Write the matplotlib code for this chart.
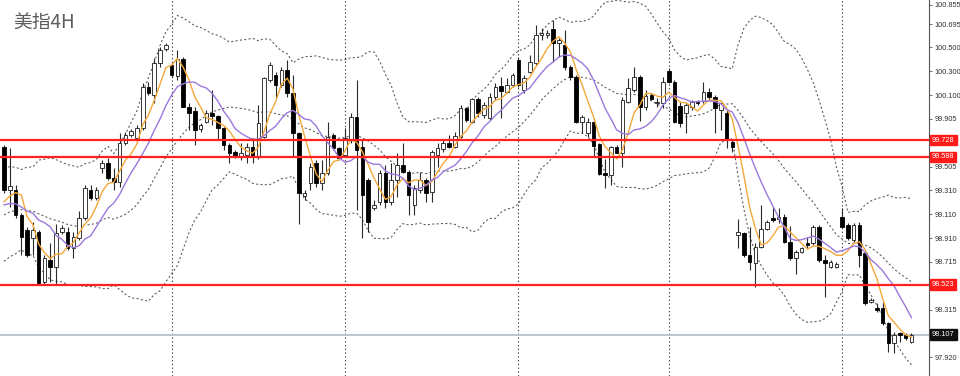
# 美指 4H candlestick chart, MT4 style
import numpy as np
import pandas as pd
import matplotlib
matplotlib.use("Agg")
import matplotlib.pyplot as plt
from matplotlib.transforms import blended_transform_factory

# closes left of the visible window (estimated from where the bands / MAs start)
earlier_close = [98.812, 98.895, 98.770, 98.937, 99.062, 98.978, 99.145, 99.103, 99.228, 99.270,
                 99.228, 99.128, 99.187, 99.103, 99.162, 99.103, 98.962, 99.020, 99.670]

opens = [
    99.670, 99.312, 99.312, 99.103, 98.978, 98.912, 98.962, 98.545, 98.728, 98.670,
    98.962, 98.962, 98.828, 98.912, 99.078, 99.312, 99.245, 99.495, 99.537, 99.412,
    99.378, 99.703, 99.770, 99.745, 99.828, 100.170, 100.103, 100.370, 100.487, 100.353,
    100.262, 100.403, 100.003, 99.970, 99.820, 99.878, 99.953, 99.928, 99.828, 99.687,
    99.628, 99.587, 99.603, 99.670, 99.587, 99.753, 100.228, 100.270, 100.187, 100.312,
    100.120, 99.787, 99.262, 99.370, 99.537, 99.370, 99.453, 99.770, 99.662, 99.603,
    99.728, 99.920, 99.670, 99.395, 99.162, 99.212, 99.453, 99.212, 99.395, 99.520,
    99.462, 99.187, 99.312, 99.395, 99.295, 99.603, 99.653, 99.703, 99.670, 99.753,
    99.995, 99.878, 100.070, 99.937, 99.912, 100.087, 100.178, 100.128, 100.187, 100.395,
    100.145, 100.295, 100.370, 100.603, 100.603, 100.653, 100.537, 100.520, 100.337, 100.253,
    99.878, 99.787, 99.878, 99.695, 99.453, 99.437, 99.670, 99.620, 100.045, 100.145,
    100.253, 100.003, 100.103, 100.037, 100.037, 100.303, 100.212, 100.012, 99.953, 100.003,
    100.045, 100.053, 100.128, 100.087, 99.978, 99.953, 99.712, 98.937, 98.953, 98.770,
    98.703, 98.837, 98.987, 99.078, 99.070, 99.087, 98.878, 98.745, 98.795, 98.870,
    98.870, 99.003, 98.728, 98.670, 98.670, 99.087, 99.020, 98.895, 99.020, 98.787,
    98.378, 98.328, 98.328, 98.203, 98.037, 98.120, 98.103, 98.045,
]
highs = [
    99.687, 99.662, 99.353, 99.120, 99.003, 99.045, 98.978, 98.770, 98.870, 99.028,
    99.020, 99.003, 98.962, 99.137, 99.353, 99.353, 99.337, 99.562, 99.578, 99.495,
    99.787, 99.795, 99.820, 99.853, 100.203, 100.212, 100.412, 100.503, 100.537, 100.370,
    100.478, 100.420, 100.037, 100.003, 99.870, 99.978, 100.145, 99.937, 99.837, 99.703,
    99.645, 99.703, 99.703, 99.745, 100.020, 100.253, 100.378, 100.295, 100.337, 100.395,
    100.270, 99.795, 99.312, 99.537, 99.562, 99.562, 99.878, 99.787, 99.670, 99.828,
    99.953, 100.228, 99.728, 99.412, 99.228, 99.478, 99.520, 99.537, 99.620, 99.703,
    99.478, 99.353, 99.462, 99.412, 99.645, 99.703, 99.728, 99.770, 99.795, 100.020,
    100.003, 100.078, 100.087, 100.045, 100.120, 100.203, 100.253, 100.245, 100.287, 100.420,
    100.270, 100.437, 100.687, 100.662, 100.645, 100.728, 100.578, 100.645, 100.353, 100.270,
    99.937, 99.912, 99.912, 99.703, 99.570, 99.678, 99.687, 100.087, 100.245, 100.337,
    100.270, 100.145, 100.120, 100.078, 100.253, 100.328, 100.228, 100.045, 100.037, 100.062,
    100.062, 100.212, 100.162, 100.103, 100.045, 99.978, 99.728, 99.070, 98.962, 99.003,
    98.870, 99.187, 99.062, 99.170, 99.162, 99.112, 99.012, 98.812, 98.837, 98.920,
    99.020, 99.020, 98.770, 98.728, 98.712, 99.162, 99.037, 99.037, 99.045, 98.795,
    98.412, 98.370, 98.378, 98.212, 98.128, 98.128, 98.120, 98.120,
]
lows = [
    99.287, 99.170, 99.078, 98.770, 98.753, 98.770, 98.520, 98.528, 98.545, 98.520,
    98.945, 98.812, 98.745, 98.895, 99.062, 99.228, 99.228, 99.453, 99.395, 99.312,
    99.337, 99.687, 99.753, 99.712, 99.812, 100.103, 100.037, 100.337, 100.470, 100.253,
    100.228, 100.003, 99.812, 99.687, 99.795, 99.870, 99.853, 99.737, 99.645, 99.537,
    99.578, 99.562, 99.537, 99.537, 99.570, 99.745, 100.212, 100.078, 100.170, 100.087,
    99.587, 99.028, 99.228, 99.312, 99.337, 99.312, 99.437, 99.645, 99.562, 99.587,
    99.703, 99.145, 98.912, 98.962, 99.145, 99.187, 99.162, 99.187, 99.253, 99.453,
    99.103, 99.103, 99.287, 99.212, 99.212, 99.503, 99.628, 99.662, 99.662, 99.745,
    99.878, 99.870, 99.920, 99.912, 99.895, 100.062, 99.912, 100.120, 100.170, 100.170,
    100.120, 100.287, 100.353, 100.562, 100.578, 100.378, 100.420, 100.312, 100.228, 99.870,
    99.787, 99.753, 99.587, 99.437, 99.328, 99.353, 99.620, 99.503, 100.037, 100.128,
    99.887, 99.978, 100.062, 100.003, 99.995, 100.203, 99.870, 99.837, 99.787, 99.978,
    100.020, 100.037, 100.062, 99.787, 99.812, 99.662, 99.628, 98.828, 98.753, 98.645,
    98.503, 98.828, 98.978, 99.045, 99.037, 98.870, 98.728, 98.612, 98.787, 98.828,
    98.853, 98.712, 98.420, 98.662, 98.662, 98.995, 98.895, 98.878, 98.670, 98.353,
    98.370, 98.295, 98.187, 97.962, 97.953, 98.045, 98.062, 98.037,
]
closes = [
    99.312, 99.345, 99.103, 98.920, 98.770, 98.978, 98.537, 98.745, 98.670, 98.953,
    98.995, 98.828, 98.920, 99.078, 99.328, 99.245, 99.312, 99.537, 99.412, 99.378,
    99.703, 99.770, 99.803, 99.828, 100.170, 100.120, 100.370, 100.478, 100.520, 100.270,
    100.403, 100.003, 99.953, 99.812, 99.853, 99.953, 99.928, 99.828, 99.687, 99.620,
    99.595, 99.620, 99.670, 99.587, 99.870, 100.245, 100.353, 100.187, 100.312, 100.120,
    99.787, 99.287, 99.287, 99.503, 99.370, 99.453, 99.753, 99.662, 99.578, 99.745,
    99.920, 99.645, 99.270, 99.045, 99.187, 99.453, 99.212, 99.395, 99.520, 99.462,
    99.270, 99.328, 99.395, 99.287, 99.628, 99.662, 99.703, 99.670, 99.762, 99.995,
    99.895, 100.070, 99.953, 100.020, 100.087, 100.170, 100.137, 100.187, 100.270, 100.187,
    100.245, 100.378, 100.603, 100.620, 100.620, 100.537, 100.562, 100.337, 100.253, 99.878,
    99.920, 99.878, 99.678, 99.445, 99.437, 99.670, 99.620, 100.062, 100.162, 100.253,
    100.003, 100.095, 100.070, 100.045, 100.212, 100.212, 99.878, 99.870, 100.020, 100.045,
    100.037, 100.128, 100.087, 99.995, 100.037, 99.728, 99.670, 98.962, 98.770, 98.712,
    98.837, 98.987, 99.045, 99.062, 99.087, 98.878, 98.745, 98.795, 98.828, 98.853,
    99.003, 98.728, 98.703, 98.712, 98.695, 99.003, 98.912, 99.020, 98.770, 98.370,
    98.395, 98.312, 98.203, 98.037, 98.103, 98.103, 98.078, 98.107,
]

grid_bars = [29, 59, 89, 115, 145]          # bars that carry a vertical separator
level_lines = [99.728, 99.588, 98.523]      # red horizontal lines
last_price = 98.107
# axis labels; the ones under the price tags (99.710, 98.515, 98.110) are covered anyway
price_ticks = [100.855, 100.695, 100.500, 100.300, 100.100, 99.905, 99.505,
               99.310, 99.110, 98.910, 98.715, 98.315, 97.920]
title = "美指4H"

# indicators: SMA5, SMA10, Bollinger(20, 2)
n_pre = len(earlier_close)
cs = pd.Series(earlier_close + closes)
ma5 = cs.rolling(5).mean().iloc[n_pre:].to_numpy()
ma10 = cs.rolling(10).mean().iloc[n_pre:].to_numpy()
mid = cs.rolling(20).mean()
sd = cs.rolling(20).std(ddof=0)
bb_mid = mid.iloc[n_pre:].to_numpy()
bb_up = (mid + 2 * sd).iloc[n_pre:].to_numpy()
bb_lo = (mid - 2 * sd).iloc[n_pre:].to_numpy()

o = np.array(opens)
h = np.array(highs)
l = np.array(lows)
c = np.array(closes)
x = np.arange(len(c))
up = c >= o

fig = plt.figure(figsize=(9.6, 3.76), dpi=100)
fig.patch.set_facecolor("white")
ax = fig.add_axes([0, 0, 929 / 960, 1])
ax.set_facecolor("white")

# separators and bands
for b in grid_bars:
    ax.axvline(b, color="#404040", lw=0.8, ls=(0, (1.2, 2.2)), zorder=1)
for band in (bb_up, bb_mid, bb_lo):
    ax.plot(x, band, color="#555555", lw=0.75, ls=(0, (2, 2.2)), zorder=2)

ax.axhline(last_price, color="#b8c0c8", lw=1.3, zorder=1)

# candles
ax.vlines(x, l, h, color="#2a2a2a", lw=0.8, zorder=3)
ax.bar(x[up], c[up] - o[up], bottom=o[up], width=0.62, color="white",
       edgecolor="#1a1a1a", linewidth=0.6, zorder=4)
ax.bar(x[~up], c[~up] - o[~up], bottom=o[~up], width=0.62, color="black",
       edgecolor="black", linewidth=0.6, zorder=4)

# moving averages
ax.plot(x, ma5, color="#f5a83a", lw=1.0, zorder=5)
ax.plot(x, ma10, color="#9a78dc", lw=1.0, zorder=5)

for lv in level_lines:
    ax.axhline(lv, color="#ff2020", lw=1.6, zorder=6)

ax.set_xlim(-0.69, 160.03)
ax.set_ylim(97.762, 100.895)

for s in ("top", "left", "bottom"):
    ax.spines[s].set_visible(False)
ax.spines["right"].set_color("#555555")
ax.spines["right"].set_linewidth(0.8)
ax.set_xticks([])
ax.yaxis.tick_right()
ax.set_yticks(price_ticks)
ax.set_yticklabels([f"{v:.3f}" for v in price_ticks])
ax.tick_params(axis="y", direction="out", length=2.5, width=0.6, color="#555555",
               labelsize=5.3, pad=1.5, labelcolor="#333333")
for t in ax.get_yticklabels():
    t.set_fontfamily("Liberation Sans")

# price tags on the axis
trans = blended_transform_factory(ax.transAxes, ax.transData)
tags = [(lv, "#ff1a1a") for lv in level_lines] + [(last_price, "#111111")]
for lv, col in tags:
    ax.annotate(f"{lv:.3f}", xy=(1, lv), xycoords=trans, xytext=(2.2, 0),
                textcoords="offset points", ha="left", va="center", fontsize=5.3,
                color="white", family="Liberation Sans", annotation_clip=False,
                bbox=dict(boxstyle="square,pad=0.25", fc=col, ec=col), zorder=10)

fig.text(13 / 960, 1 - 22 / 376, title, fontsize=13.5, color="#5c5c5c", va="center",
         family=["Noto Sans CJK SC", "DejaVu Sans"])

fig.savefig("out.png", dpi=100, facecolor="white")
